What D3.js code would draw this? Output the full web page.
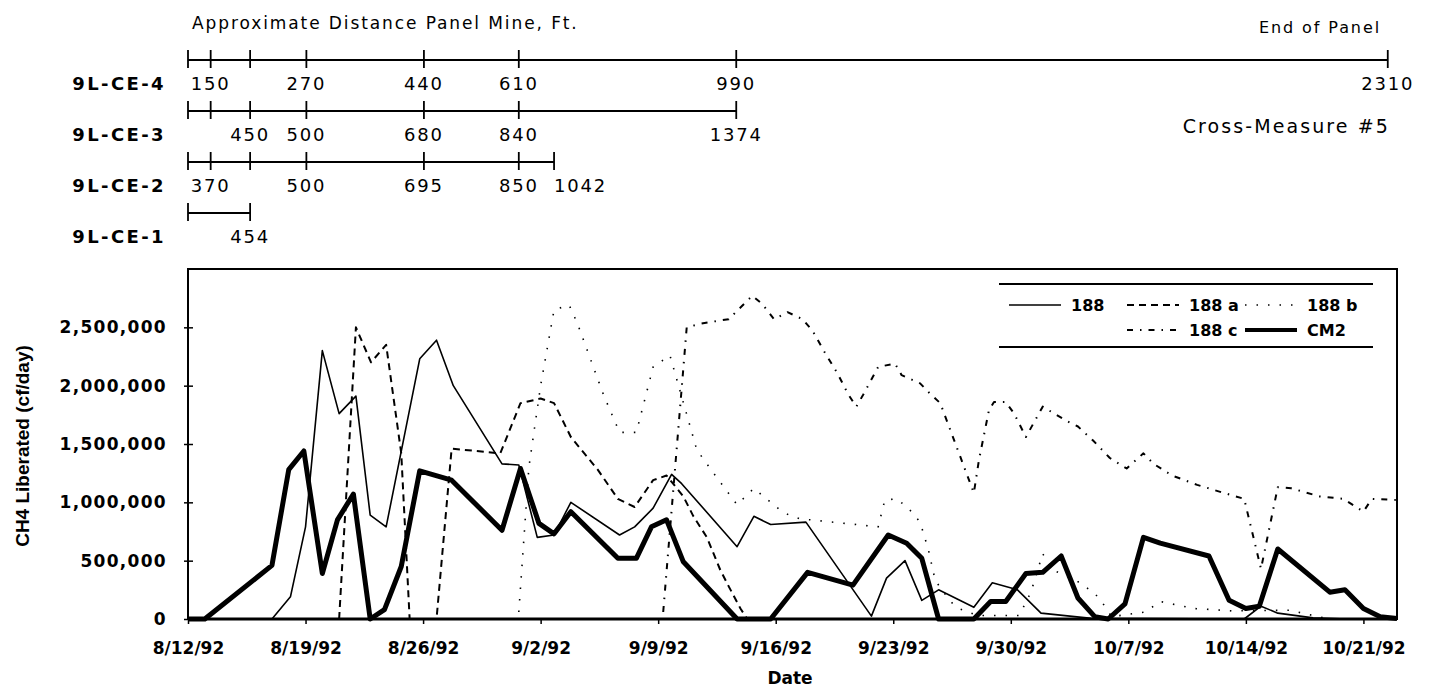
<!DOCTYPE html>
<html>
<head>
<meta charset="utf-8">
<title>CH4 Liberated - Cross-Measure #5</title>
<style>
  body { margin: 0; background: #fff; }
  svg text { fill: #000; }
  .top-text { font-family: "DejaVu Sans", sans-serif; font-size: 17px; letter-spacing: 1.9px; }
  .row-name { font-family: "DejaVu Sans", sans-serif; font-weight: bold; font-size: 18px; letter-spacing: 2.4px; }
  .dist { font-family: "DejaVu Sans", sans-serif; font-size: 18px; letter-spacing: 1.8px; }
  .axis text { font-family: "DejaVu Sans", sans-serif; font-weight: bold; font-size: 17px; }
  .axis .tick line { stroke: #000; stroke-width: 1.5; }
  .legend text { font-family: "DejaVu Sans", sans-serif; font-weight: bold; font-size: 16px; }
  .series { fill: none; stroke: #000; }
</style>
</head>
<body>
<svg id="chart" width="1430" height="688"></svg>
<script src="https://cdn.jsdelivr.net/npm/d3@7"></script>
<script>

// x data are days after 8/12/92
var dateTicks = ["8/12/92", "8/19/92", "8/26/92", "9/2/92", "9/9/92", "9/16/92",
                 "9/23/92", "9/30/92", "10/7/92", "10/14/92", "10/21/92"];
var yTicks = [0, 500000, 1000000, 1500000, 2000000, 2500000];

var s188 = [[5,0],[6.1,190000],[7,790000],[8,2300000],[9,1760000],[10,1910000],[10.85,890000],
  [11.8,790000],[13.8,2230000],[14.8,2390000],[15.8,2000000],[18.7,1330000],[19.7,1320000],
  [20.8,700000],[21.8,720000],[22.8,1000000],[25.7,720000],[26.6,790000],[27.7,950000],
  [28.8,1240000],[29.4,1160000],[32.7,620000],[33.7,880000],[34.7,810000],[36.8,830000],
  [40.7,25000],[41.6,350000],[42.7,500000],[43.7,160000],[44.7,250000],[46.8,100000],
  [47.9,310000],[49.4,250000],[50.8,50000],[53.8,5000],[62.9,0],[63.9,110000],[64.9,50000],
  [67,10000],[69,0]];

var s188a = [[9,0],[10,2500000],[10.9,2200000],[11.8,2350000],[12.7,1420000],[13.2,0],[14.8,0],
  [15.7,1460000],[18.6,1420000],[19.8,1850000],[21,1890000],[21.8,1850000],[22.8,1560000],
  [24.4,1280000],[25.6,1030000],[26.6,960000],[27.7,1190000],[28.5,1230000],[29.5,1050000],
  [30.1,880000],[30.9,700000],[31.7,420000],[32.2,280000],[32.9,90000],[33.3,0]];

var s188b = [[19.7,60000],[20.3,1300000],[21,2000000],[21.8,2650000],[22.7,2690000],[23.2,2530000],
  [24.75,1920000],[25.7,1600000],[26.7,1600000],[27.7,2160000],[28.7,2260000],[30.3,1450000],
  [31.3,1250000],[32.7,980000],[33.7,1120000],[34.2,1060000],[35.3,930000],[35.8,890000],
  [36.4,860000],[41.1,790000],[41.5,1020000],[42.2,1030000],[42.9,950000],[43.6,830000],
  [44.1,590000],[44.5,330000],[45.4,150000],[45.9,90000],[47,30000],[49.5,30000],[50.2,230000],
  [50.9,560000],[51.5,420000],[52.9,330000],[54,220000],[54.5,130000],[55,20000],[57,60000],
  [57.9,150000],[59.9,90000],[61.1,80000],[62,70000],[65.6,75000],[67,30000],[68,0]];

var s188c = [[28.3,60000],[29.7,2500000],[30.5,2530000],[31.3,2550000],[32.2,2570000],[33.6,2770000],
  [34.2,2700000],[34.9,2570000],[35.7,2630000],[36.6,2570000],[37.2,2470000],[37.9,2290000],
  [38.7,2100000],[39.3,1930000],[39.8,1820000],[40.2,1920000],[41.1,2160000],[42.1,2190000],
  [42.5,2090000],[43.6,2020000],[44.2,1930000],[44.8,1850000],[46.8,1080000],[47.1,1360000],
  [47.7,1790000],[48,1860000],[48.7,1860000],[49.2,1760000],[49.9,1560000],[50.9,1820000],
  [51.6,1760000],[52.3,1700000],[53,1650000],[53.9,1530000],[54.9,1380000],[55.9,1290000],
  [56.9,1420000],[57.5,1330000],[58.6,1230000],[60.1,1150000],[61.7,1080000],[62.9,1030000],
  [63.9,430000],[64.9,1130000],[65.7,1120000],[67.4,1050000],[68.8,1030000],[70,920000],
  [70.5,1030000],[72,1020000]];

var sCM2 = [[0,0],[1,0],[5,460000],[6,1280000],[6.9,1440000],[8,390000],[8.9,850000],[9.85,1070000],
  [10.85,0],[11.7,80000],[12.7,450000],[13.8,1270000],[15.7,1190000],[18.7,760000],[19.8,1290000],
  [20.9,820000],[21.8,730000],[22.8,920000],[25.6,520000],[26.7,520000],[27.6,790000],[28.5,850000],
  [29.5,490000],[32.7,0],[34.7,0],[36.9,400000],[39.6,290000],[41.7,720000],[42.8,650000],
  [43.7,520000],[44.7,0],[46.8,0],[47.8,150000],[48.7,150000],[49.9,390000],[50.9,400000],
  [52,540000],[53,180000],[54,20000],[54.8,0],[55.8,130000],[56.9,700000],[57.9,650000],
  [60.8,540000],[62,160000],[63,90000],[63.8,110000],[64.9,600000],[68,230000],[68.9,250000],
  [70,90000],[71,20000],[72,5000]];

var seriesNames = ["188", "188 a", "188 b", "188 c", "CM2"];
var seriesData = [s188, s188a, s188b, s188c, sCM2];

// distance panel (tick positions in days after 8/12/92)
var rowNames = ["9L-CE-4", "9L-CE-3", "9L-CE-2", "9L-CE-1"];
var ce4Ticks = [0, 1.35, 3.7, 7.05, 14.05, 19.7, 32.65, 71.45];
var ce4Labels = ["", "150", "", "270", "440", "610", "990", "2310"];
var ce3Ticks = [0, 1.35, 3.7, 7.05, 14.05, 19.7, 32.65];
var ce3Labels = ["", "", "450", "500", "680", "840", "1374"];
var ce2Ticks = [0, 1.35, 3.7, 7.05, 14.05, 19.7, 21.8];
var ce2Labels = ["", "370", "", "500", "695", "850", "1042"];
var ce1Ticks = [0, 3.7];
var ce1Labels = ["", "454"];

var rowTicks = [ce4Ticks, ce3Ticks, ce2Ticks, ce1Ticks];
var rowLabels = [ce4Labels, ce3Labels, ce2Labels, ce1Labels];

(function() {

  var styles = {
    "188":   { w: 1.6, dash: null },
    "188 a": { w: 2,   dash: "7,5" },
    "188 b": { w: 1.6, dash: "1.5,10" },
    "188 c": { w: 2,   dash: "6,7,1.5,7" },
    "CM2":   { w: 5,   dash: null }
  };

  var svg = d3.select("#chart");
  var plotLeft = 188, plotRight = 1397, plotTop = 269, plotBottom = 619;

  var base = new Date(1992, 7, 12);
  function dayDate(d) { return new Date(base.getTime() + d * 864e5); }
  var parse = d3.timeParse("%m/%d/%y");

  var x = d3.scaleTime()
      .domain([base, new Date(1992, 9, 23)])
      .range([plotLeft, plotRight]);

  var y = d3.scaleLinear()
      .domain([0, 3000000])
      .range([plotBottom, plotTop]);

  // ---------- distance panel ----------
  svg.append("text")
      .attr("class", "top-text")
      .attr("x", plotLeft + 4).attr("y", 29)
      .text("Approximate Distance Panel Mine, Ft.");

  svg.append("text")
      .attr("class", "top-text")
      .attr("x", 1381).attr("y", 33)
      .attr("text-anchor", "end")
      .style("font-size", "16px")
      .text("End of Panel");

  svg.append("text")
      .attr("class", "top-text")
      .attr("x", 1390).attr("y", 133)
      .attr("text-anchor", "end")
      .style("font-size", "19px")
      .style("letter-spacing", "2.1px")
      .text("Cross-Measure #5");

  var rowY = d3.scalePoint().domain(rowNames).range([60, 213]);

  rowNames.forEach(function(name, r) {
    var ry = rowY(name);
    var ticks = rowTicks[r], labs = rowLabels[r];
    var g = svg.append("g");

    g.append("text")
        .attr("class", "row-name")
        .attr("x", plotLeft - 22).attr("y", ry + 30)
        .attr("text-anchor", "end")
        .text(name);

    g.append("line")
        .attr("x1", x(dayDate(ticks[0]))).attr("x2", x(dayDate(ticks[ticks.length - 1])))
        .attr("y1", ry).attr("y2", ry)
        .attr("stroke", "#000").attr("stroke-width", 2.2);

    g.selectAll(".pt")
        .data(ticks)
      .enter().append("line")
        .attr("x1", function(d) { return x(dayDate(d)); })
        .attr("x2", function(d) { return x(dayDate(d)); })
        .attr("y1", ry - 10).attr("y2", ry + 8)
        .attr("stroke", "#000").attr("stroke-width", 1.8);

    g.selectAll(".dl")
        .data(ticks)
      .enter().append("text")
        .attr("class", "dist")
        .attr("x", function(d) { return x(dayDate(d)); })
        .attr("y", ry + 30)
        .attr("text-anchor", function(d, i) {
          // crowded against the previous label -> start at the tick
          if (i > 0 && labs[i - 1] && x(dayDate(d)) - x(dayDate(ticks[i - 1])) < 45) return "start";
          return "middle";
        })
        .text(function(d, i) { return labs[i]; });
  });

  // ---------- main chart ----------
  var gx = svg.append("g")
      .attr("class", "axis")
      .attr("transform", "translate(0," + plotBottom + ")")
      .call(d3.axisBottom(x)
        .tickValues(dateTicks.map(parse))
        .tickSize(5)
        .tickPadding(18)
        .tickFormat(function(d, i) { return dateTicks[i]; }));
  gx.select(".domain").remove();

  var gy = svg.append("g")
      .attr("class", "axis")
      .attr("transform", "translate(" + plotLeft + ",0)")
      .call(d3.axisLeft(y)
        .tickValues(yTicks)
        .tickSize(4)
        .tickPadding(17)
        .tickFormat(d3.format(",")));
  gy.select(".domain").remove();
  gy.selectAll(".tick line").attr("x1", 5);
  gy.selectAll(".tick text").style("letter-spacing", "1.3px");

  svg.append("text")
      .attr("transform", "translate(29,446) rotate(-90)")
      .attr("text-anchor", "middle")
      .style("font-family", "'Liberation Sans', Arial, sans-serif")
      .style("font-weight", "bold")
      .style("font-size", "19px")
      .text("CH4 Liberated (cf/day)");

  svg.append("text")
      .attr("x", 790).attr("y", 684)
      .attr("text-anchor", "middle")
      .style("font-family", "'DejaVu Sans', sans-serif")
      .style("font-weight", "bold")
      .style("font-size", "17px")
      .text("Date");

  svg.append("rect")
      .attr("x", plotLeft).attr("y", plotTop)
      .attr("width", plotRight - plotLeft).attr("height", plotBottom - plotTop)
      .attr("fill", "none").attr("stroke", "#000").attr("stroke-width", 2);

  svg.append("line")
      .attr("x1", plotLeft).attr("x2", plotRight)
      .attr("y1", plotBottom).attr("y2", plotBottom)
      .attr("stroke", "#000").attr("stroke-width", 3);

  var line = d3.line()
      .x(function(d) { return x(dayDate(d[0])); })
      .y(function(d) { return y(d[1]); });

  svg.selectAll(".series")
      .data(seriesData)
    .enter().append("path")
      .attr("class", "series")
      .attr("d", line)
      .attr("stroke-width", function(d, i) { return styles[seriesNames[i]].w; })
      .attr("stroke-dasharray", function(d, i) { return styles[seriesNames[i]].dash; })
      .attr("stroke-linejoin", "round");

  // ---------- legend ----------
  var lg = svg.append("g").attr("class", "legend");
  var lgLeft = 999, lgRight = 1373, lgTop = 284, lgBottom = 347;
  lg.append("line").attr("x1", lgLeft).attr("x2", lgRight).attr("y1", lgTop).attr("y2", lgTop)
      .attr("stroke", "#000").attr("stroke-width", 2);
  lg.append("line").attr("x1", lgLeft).attr("x2", lgRight).attr("y1", lgBottom).attr("y2", lgBottom)
      .attr("stroke", "#000").attr("stroke-width", 2);

  var perRow = 3, colW = 118, sampleW = 52;
  seriesNames.forEach(function(name, i) {
    var row = Math.floor(i / perRow);
    var inRow = Math.min(perRow, seriesNames.length - row * perRow);
    var col = i % perRow + (perRow - inRow);   // last row right-aligned
    var lx = 1009 + col * colW, ly = 305 + row * 25;
    var st = styles[name];
    lg.append("line")
        .attr("x1", lx).attr("x2", lx + sampleW)
        .attr("y1", ly).attr("y2", ly)
        .attr("stroke", "#000")
        .attr("stroke-width", name === "CM2" ? 4 : st.w)
        .attr("stroke-dasharray", st.dash);
    lg.append("text")
        .attr("x", lx + sampleW + 10).attr("y", ly + 6)
        .text(name);
  });

})();
</script>
</body>
</html>
